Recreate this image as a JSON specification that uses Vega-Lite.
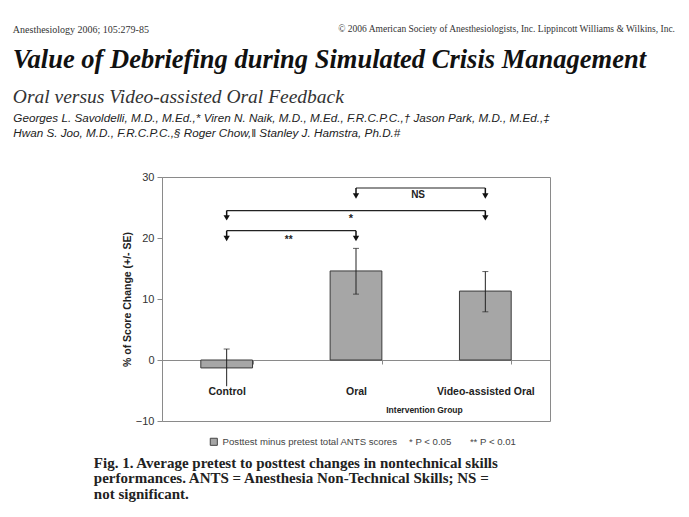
{
  "$schema": "https://vega.github.io/schema/vega-lite/v6.json",
  "background": "white",
  "padding": {"left": 12, "top": 24, "right": 5, "bottom": 5},
  "datasets": {
    "scores": [
      {"group": "Control", "mean": -1.3, "lo": -4.3, "hi": 1.8, "series": "Posttest minus pretest total ANTS scores"},
      {"group": "Oral", "mean": 14.6, "lo": 10.8, "hi": 18.3, "series": "Posttest minus pretest total ANTS scores"},
      {"group": "Video-assisted Oral", "mean": 11.3, "lo": 7.9, "hi": 14.5, "series": "Posttest minus pretest total ANTS scores"}
    ],
    "caps": [
      {"group": "Control", "v": 1.8},
      {"group": "Oral", "v": 18.3},
      {"group": "Oral", "v": 10.8},
      {"group": "Video-assisted Oral", "v": 14.5},
      {"group": "Video-assisted Oral", "v": 7.9}
    ],
    "brackets": [
      {"from": "Oral", "to": "Video-assisted Oral", "y": 28.2, "label": "NS", "ly": 26.5},
      {"from": "Control", "to": "Video-assisted Oral", "y": 24.5, "label": "*", "ly": 22.6},
      {"from": "Control", "to": "Oral", "y": 21.2, "label": "**", "ly": 19.2}
    ],
    "arrows": [
      {"group": "Oral", "y": 28.2, "head": 26.9},
      {"group": "Video-assisted Oral", "y": 28.2, "head": 26.9},
      {"group": "Control", "y": 24.5, "head": 23.3},
      {"group": "Video-assisted Oral", "y": 24.5, "head": 23.3},
      {"group": "Control", "y": 21.2, "head": 19.9},
      {"group": "Oral", "y": 21.2, "head": 19.9}
    ]
  },
  "config": {
    "view": {"stroke": "#8a8a8a", "strokeWidth": 1},
    "font": "Liberation Sans"
  },
  "title": {
    "text": "Anesthesiology 2006; 105:279-85",
    "anchor": "start", "frame": "bounds", "orient": "top",
    "font": "Liberation Serif", "fontSize": 10, "fontWeight": "normal", "color": "#333333",
    "offset": 0, "dy": 11
  },
  "vconcat": [
    {
      "title": {
        "text": "© 2006 American Society of Anesthesiologists, Inc. Lippincott Williams & Wilkins, Inc.",
        "anchor": "end", "frame": "bounds", "orient": "top",
        "font": "Liberation Serif", "fontSize": 9.5, "fontWeight": "normal", "color": "#333333",
        "offset": 13, "dx": 29
      },
      "vconcat": [
        {
          "title": {
            "text": ["Fig. 1. Average pretest to posttest changes in nontechnical skills", "performances. ANTS = Anesthesia Non-Technical Skills; NS =", "not significant."],
            "orient": "bottom", "anchor": "start", "frame": "bounds",
            "font": "Liberation Serif", "fontSize": 15, "fontWeight": "bold", "color": "#222222",
            "lineHeight": 15.5, "offset": 29, "dx": 81
          },
          "vconcat": [
            {
              "title": {
                "text": "Value of Debriefing during Simulated Crisis Management",
                "subtitle": "Oral versus Video-assisted Oral Feedback",
                "anchor": "start", "frame": "bounds", "orient": "top",
                "font": "Liberation Serif", "fontSize": 26.5, "fontWeight": "bold", "fontStyle": "italic", "color": "#111111",
                "subtitleFont": "Liberation Serif", "subtitleFontSize": 19.5, "subtitleFontStyle": "italic", "subtitleColor": "#333333",
                "subtitlePadding": 15, "offset": 6
              },
              "vconcat": [
                {
                  "title": {
                    "text": ["Georges L. Savoldelli, M.D., M.Ed.,* Viren N. Naik, M.D., M.Ed., F.R.C.P.C.,† Jason Park, M.D., M.Ed.,‡", "Hwan S. Joo, M.D., F.R.C.P.C.,§ Roger Chow,‖ Stanley J. Hamstra, Ph.D.#"],
                    "anchor": "start", "frame": "bounds", "orient": "top",
                    "font": "Liberation Sans", "fontSize": 11.7, "fontWeight": "normal", "fontStyle": "italic", "color": "#222222",
                    "lineHeight": 15, "offset": 31, "dx": -109
                  },
                  "width": 388,
                  "height": 244,
                  "layer": [
                    {
                      "data": {"name": "scores"},
                      "mark": {"type": "bar", "stroke": "#3a3a3a", "strokeWidth": 1},
                      "encoding": {
                        "x": {
                          "field": "group", "type": "nominal", "sort": ["Control", "Oral", "Video-assisted Oral"],
                          "scale": {"paddingInner": 0.6, "paddingOuter": 0.3},
                          "axis": {
                            "title": "Intervention Group", "offset": -61, "labelAngle": 0,
                            "domainColor": "#8a8a8a", "tickColor": "#8a8a8a", "tickSize": 4, "tickBand": "extent",
                            "labelFont": "Liberation Sans", "labelFontSize": 10.5, "labelFontWeight": "bold", "labelColor": "#222222", "labelPadding": 22,
                            "titleFont": "Liberation Sans", "titleFontSize": 8.5, "titleFontWeight": "bold", "titleColor": "#222222",
                            "titleX": 262, "titleY": 49, "titleBaseline": "middle"
                          }
                        },
                        "y": {
                          "field": "mean", "type": "quantitative",
                          "scale": {"domain": [-10, 30], "nice": false, "zero": false},
                          "axis": {
                            "title": "% of Score Change (+/- SE)", "values": [-10, 0, 10, 20, 30], "grid": false,
                            "domainColor": "#8a8a8a", "tickColor": "#8a8a8a", "tickSize": 5, "labelPadding": 3,
                            "labelFont": "Liberation Sans", "labelFontSize": 11, "labelColor": "#333333",
                            "titleFont": "Liberation Sans", "titleFontSize": 10.5, "titleFontWeight": "bold", "titleColor": "#222222", "titlePadding": 3
                          }
                        },
                        "color": {
                          "field": "series", "type": "nominal",
                          "scale": {"range": ["#a6a6a6"]},
                          "legend": {
                            "orient": "none", "legendX": 47, "legendY": 260, "direction": "horizontal",
                            "title": "* P < 0.05\u00a0\u00a0\u00a0\u00a0\u00a0\u00a0 ** P < 0.01", "titleOrient": "right", "titleFont": "Liberation Sans", "titleFontSize": 9.6,
                            "titleFontWeight": "normal", "titleColor": "#444444", "titlePadding": 12, "titleBaseline": "middle",
                            "labelFont": "Liberation Sans", "labelFontSize": 9.6, "labelColor": "#444444", "labelLimit": 400, "labelOffset": 4,
                            "symbolType": "square", "symbolSize": 50, "symbolStrokeColor": "#444444", "symbolStrokeWidth": 1, "symbolOpacity": 1
                          }
                        }
                      }
                    },
                    {
                      "data": {"name": "scores"},
                      "mark": {"type": "rule", "color": "#222222", "strokeWidth": 1},
                      "encoding": {
                        "x": {"field": "group", "type": "nominal", "sort": ["Control", "Oral", "Video-assisted Oral"]},
                        "y": {"field": "lo", "type": "quantitative"},
                        "y2": {"field": "hi"}
                      }
                    },
                    {
                      "data": {"name": "caps"},
                      "mark": {"type": "tick", "color": "#222222", "size": 6, "thickness": 1},
                      "encoding": {
                        "x": {"field": "group", "type": "nominal", "sort": ["Control", "Oral", "Video-assisted Oral"]},
                        "y": {"field": "v", "type": "quantitative"}
                      }
                    },
                    {
                      "data": {"name": "brackets"},
                      "mark": {"type": "rule", "color": "#222222", "strokeWidth": 1.2},
                      "encoding": {
                        "x": {"field": "from", "type": "nominal", "sort": ["Control", "Oral", "Video-assisted Oral"]},
                        "x2": {"field": "to"},
                        "y": {"field": "y", "type": "quantitative"}
                      }
                    },
                    {
                      "data": {"name": "arrows"},
                      "mark": {"type": "rule", "color": "#111111", "strokeWidth": 1.5},
                      "encoding": {
                        "x": {"field": "group", "type": "nominal", "sort": ["Control", "Oral", "Video-assisted Oral"]},
                        "y": {"field": "y", "type": "quantitative"},
                        "y2": {"field": "head"}
                      }
                    },
                    {
                      "data": {"name": "arrows"},
                      "mark": {"type": "point", "shape": "triangle-down", "filled": true, "color": "#111111", "size": 40, "opacity": 1},
                      "encoding": {
                        "x": {"field": "group", "type": "nominal", "sort": ["Control", "Oral", "Video-assisted Oral"]},
                        "y": {"field": "head", "type": "quantitative"}
                      }
                    },
                    {
                      "data": {"name": "brackets"},
                      "transform": [{"filter": "datum.label !== '*'"}],
                      "mark": {"type": "text", "font": "Liberation Sans", "fontSize": 10, "fontWeight": "bold", "color": "#222222", "baseline": "alphabetic"},
                      "encoding": {
                        "x": {"field": "from", "type": "nominal", "sort": ["Control", "Oral", "Video-assisted Oral"], "bandPosition": 1.7},
                        "y": {"field": "ly", "type": "quantitative"},
                        "text": {"field": "label"}
                      }
                    },
                    {
                      "data": {"name": "brackets"},
                      "transform": [{"filter": "datum.label === '*'"}],
                      "mark": {"type": "text", "font": "Liberation Sans", "fontSize": 11, "fontWeight": "bold", "color": "#222222", "baseline": "alphabetic"},
                      "encoding": {
                        "x": {"field": "to", "type": "nominal", "sort": ["Control", "Oral", "Video-assisted Oral"], "bandPosition": -2.1},
                        "y": {"field": "ly", "type": "quantitative"},
                        "text": {"field": "label"}
                      }
                    }
                  ]
                }
              ]
            }
          ]
        }
      ]
    }
  ]
}
